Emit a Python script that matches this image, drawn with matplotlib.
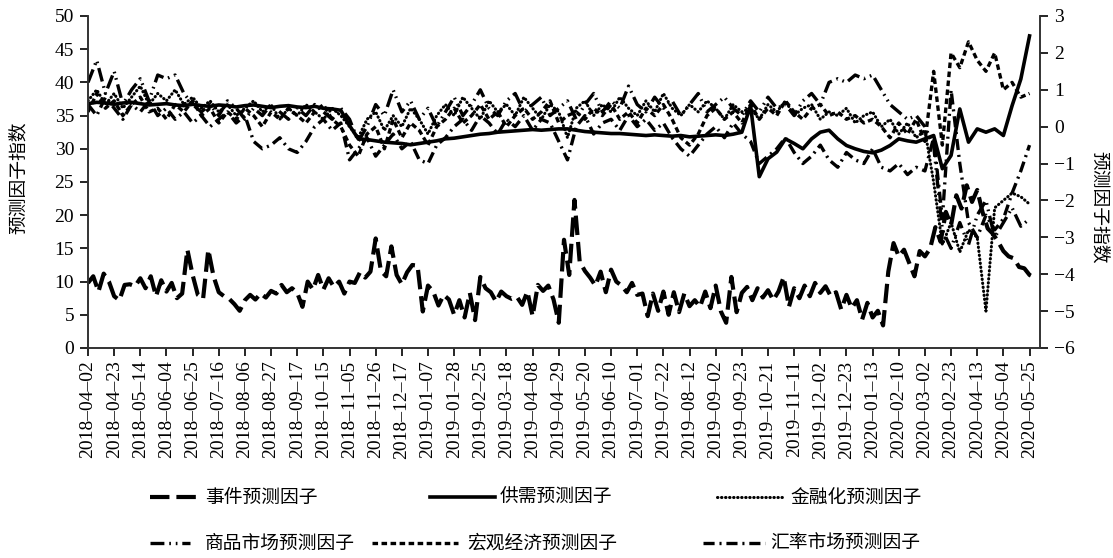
import numpy as np
import matplotlib
matplotlib.use("Agg")
import matplotlib.pyplot as plt
from matplotlib.lines import Line2D

plt.rcParams['font.family'] = ['Liberation Serif', 'Noto Sans CJK SC']
plt.rcParams['lines.scale_dashes'] = False
plt.rcParams['axes.unicode_minus'] = True

# ---------------- data ----------------
tick_labels = [
    "2018–04–02", "2018–04–23", "2018–05–14", "2018–06–04", "2018–06–25", "2018–07–16",
    "2018–08–06", "2018–08–27", "2018–09–17", "2018–10–15", "2018–11–05", "2018–11–26",
    "2018–12–17", "2019–01–07", "2019–01–28", "2019–02–25", "2019–03–18", "2019–04–08",
    "2019–04–29", "2019–05–20", "2019–06–10", "2019–07–01", "2019–07–22", "2019–08–12",
    "2019–09–02", "2019–09–23", "2019–10–21", "2019–11–11", "2019–12–02", "2019–12–23",
    "2020–01–13", "2020–02–10", "2020–03–02", "2020–02–23", "2020–04–13", "2020–05–04",
    "2020–05–25",
]
days_per_tick = 15        # trading days between tick labels
days_per_sample = 5       # trading days between read values (most series)
event_days_per_sample = 3 # event factor read more densely
last_day = 546

# left axis
event = [9.8, 10.8, 8.5, 11.2, 10.0, 7.8, 7.2, 9.5, 9.6, 9.3, 10.5, 9.0, 10.8, 7.8, 10.2,
         8.5, 9.8, 7.5, 8.2, 14.8, 11.0, 8.0, 7.4, 14.8, 10.8, 8.4, 7.8, 7.4, 6.6, 5.6,
         7.2, 8.0, 7.3, 8.2, 7.6, 8.6, 8.2, 9.5, 8.4, 9.0, 8.3, 6.2, 10.0, 8.8, 11.0,
         8.8, 10.5, 9.2, 10.0, 8.2, 10.0, 9.8, 11.4, 10.6, 11.5, 16.5, 11.6, 10.8, 15.3, 11.0,
         9.6, 11.4, 12.5, 12.4, 5.5, 9.4, 8.5, 6.4, 8.0, 7.3, 5.0, 7.2, 4.6, 8.3, 4.2,
         10.7, 9.0, 8.4, 7.0, 8.5, 7.8, 7.4, 7.7, 6.5, 8.5, 4.8, 9.5, 8.6, 9.4, 7.3,
         3.8, 16.3, 11.0, 22.3, 13.0, 11.6, 10.6, 9.4, 11.5, 8.4, 11.8, 10.0, 9.4, 8.4, 9.8,
         8.0, 8.2, 4.8, 8.2, 5.6, 8.5, 5.0, 8.4, 5.4, 8.2, 6.3, 7.2, 6.2, 8.5, 6.0,
         9.4, 5.5, 3.8, 10.7, 5.4, 8.3, 9.2, 7.2, 9.0, 7.6, 8.7, 7.2, 8.5, 10.7, 6.2,
         9.0, 7.5, 9.4, 7.8, 9.8, 8.3, 9.3, 7.8, 8.4, 5.8, 8.0, 6.0, 7.2, 4.3, 6.8,
         4.6, 5.6, 3.4, 11.5, 15.8, 13.8, 14.8, 12.8, 10.8, 14.6, 13.8, 15.0, 18.2, 16.0, 20.5,
         18.5, 23.0, 21.0, 24.5, 22.0, 23.8, 20.5, 18.0, 17.2, 16.0, 14.6, 13.8, 13.5, 12.2, 12.0,
         11.0, 10.6]
supply = [36.8, 37.0, 36.9, 36.7, 36.9, 37.0, 36.8, 36.6, 36.7, 36.8, 36.6, 36.5, 36.7,
          36.5, 36.4, 36.6, 36.5, 36.3, 36.5, 36.6, 36.4, 36.2, 36.4, 36.5, 36.3, 36.2, 36.4, 36.1,
          36.0, 35.8,
          33.5, 31.5, 31.4, 31.2, 31.0, 30.9, 30.8, 30.6, 30.8, 31.0, 31.2,
          31.5, 31.6, 31.8, 32.0, 32.2, 32.3, 32.5, 32.6, 32.7, 32.8, 32.9, 32.8, 32.9, 33.0, 33.0,
          32.8, 32.6, 32.5, 32.4, 32.3, 32.3, 32.2, 32.1, 32.0, 32.1, 32.0, 31.9, 32.0, 31.8, 31.9,
          32.0, 32.1, 32.0, 32.2, 32.5,
          36.5, 25.8, 28.5, 29.5, 31.5, 30.8, 30.0, 31.5, 32.5, 32.8, 31.5, 30.5, 30.0, 29.6, 29.4,
          29.8, 30.5, 31.5, 31.2, 31.0, 31.5,
          32.0, 27.0, 29.0, 36.0, 31.0, 33.0, 32.5, 33.0, 32.0, 36.5, 40.5, 47.0]

# right axis
financial = [0.7, 1.0, 0.6, 0.9, 0.5, 0.8, 1.1, 0.6, 0.9, 0.7, 1.0, 0.6, 0.8,
             0.5, 0.7, 0.4, 0.6, 0.3, 0.5, 0.7, 0.4, 0.6, 0.2, 0.5, 0.3, 0.6, 0.4, 0.2, 0.5, 0.3,
             0.0, -0.3, 0.2, 0.4, -0.1, 0.3, 0.0, 0.5, 0.2, -0.2, 0.3,
             0.6, 0.3, 0.8, 0.5, 0.2, 0.7, 0.4, 0.6, 0.3, 0.8, 0.5, 0.2, 0.6, 0.4, -0.3, 0.5, 0.7,
             0.3, 0.6, 0.4, 0.8, 0.5, 0.3, 0.7, 0.4, 0.9, 0.5, 0.3, 0.6, 0.4, 0.7, 0.5, 0.2, 0.6, 0.4,
             0.5, 0.2, 0.6, 0.4, 0.7, 0.3, 0.5, 0.6, 0.2, 0.4, 0.3, 0.5, 0.1, 0.3, 0.4, 0.0, 0.2,
             -0.2, 0.1, -0.3, -0.1,
             -1.5, -3.2, -2.6, -3.4, -2.8, -3.0, -5.0, -2.2, -2.0, -1.8, -1.9, -2.1]
commodity = [1.2, 1.8, 0.9, 1.5, 0.6, 1.0, 1.3, 0.7, 1.4, 1.3, 1.4, 0.9, 0.6,
             0.4, 0.6, 0.3, 0.7, 0.5, 0.2, 0.5, 0.3, 0.6, 0.4, 0.2, 0.5, 0.3, 0.6, 0.4, 0.2, 0.5,
             0.2, -0.4, 0.0, 0.6, 0.3, 1.0, 0.4, 0.7, 0.2, 0.5, 0.0,
             0.4, 0.8, 0.3, 0.6, 1.0, 0.5, 0.3, 0.7, 0.9, 0.4, 0.6, 0.8, 0.3, 0.5, 0.7, 0.2, 0.6,
             0.9, 0.4, 0.7, 0.5, 1.1, 0.6, 0.4, 0.8, 0.5, 0.7, 0.3, 0.6, 0.9, 0.4, 0.6, 0.8, 0.5, 0.3,
             0.7, 0.4, 0.8, 0.5, 0.6, 0.3, 0.7, 0.9, 0.6, 1.2, 1.3, 1.2, 1.4, 1.3, 1.4, 1.0, 0.6,
             0.4, 0.2, 0.3, 0.0,
             -0.5, -2.8, -3.3, -2.6, -3.2, -2.4, -2.0, -3.0, -2.6, -2.2, -2.7, -2.5]
macro = [0.4, 0.9, 0.5, 0.7, 0.3, 0.6, 0.8, 0.4, 0.5, 0.2, 0.6, 0.4, 0.7,
         0.3, 0.5, 0.1, 0.4, 0.2, 0.5, 0.3, 0.0, 0.4, 0.2, 0.5, 0.3, 0.1, 0.4, 0.6, 0.2, 0.0,
         -0.5, -0.8, -0.2, 0.0, -0.6, 0.2, -0.3, 0.1, -0.1, -0.5, 0.0,
         0.2, 0.5, 0.1, 0.3, 0.6, 0.2, 0.4, 0.0, 0.3, 0.5, 0.2, 0.4, 0.7, 0.1, 0.3, 0.4, 0.2,
         0.5, 0.3, 0.6, 0.2, 0.4, 0.1, 0.5, 0.3, 0.6, 0.2, -0.3, -0.5, -0.2, 0.3, 0.5, 0.2, 0.4, 0.1,
         0.6, 0.2, 0.5, 0.3, 0.7, 0.4, 0.2, 0.5, 0.6, 0.3, 0.4, 0.2, 0.3, 0.1, 0.2, 0.0, -0.3,
         0.1, -0.2, 0.2, -0.4,
         1.5, -0.5, 2.0, 1.6, 2.3, 1.8, 1.5, 2.0, 1.0, 1.2, 0.8, 0.9]
exchange = [0.6, 0.3, 0.8, 0.5, 0.2, 0.6, 0.4, 0.7, 0.3, 0.5, 0.2, 0.4, 0.1,
            0.3, 0.0, 0.2, 0.4, 0.1, 0.3, -0.4, -0.6, -0.5, -0.3, -0.6, -0.7, -0.4, 0.0, 0.2,
            -0.1, 0.1,
            -0.9, -0.6, -0.3, -0.8, -0.5, -0.2, -0.6, -0.4, -0.9, -1.0, -0.5,
            -0.3, 0.0, 0.2, -0.1, 0.3, 0.1, -0.2, 0.2, 0.0, 0.3, -0.1, 0.2, 0.1, -0.4, -0.9, 0.0,
            0.3, -0.2, 0.1, 0.2, -0.1, 0.3, 0.0, 0.2, -0.1, 0.1, -0.3, -0.6, -0.8, -0.5, -0.2, 0.0,
            -0.3, 0.1, -0.2,
            -0.4, -1.0, -0.8, -0.6, -0.3, -0.7, -1.0, -0.8, -0.5, -0.9, -1.1, -0.7, -0.9, -1.0,
            -0.6, -1.1, -1.2, -1.0, -1.3, -1.1, -1.2,
            -0.3, -2.5, 1.0, -1.0, -2.6, -3.0, -2.4, -2.8, -2.5, -1.8, -1.2, -0.5]

# ---------------- styles ----------------
styles = {
    "事件预测因子": dict(color="black", lw=3.0, linestyle=(0, (14, 5))),
    "供需预测因子": dict(color="black", lw=2.6, linestyle="-"),
    "金融化预测因子": dict(color="black", lw=2.2, linestyle=(0, (0.3, 2.6)), dash_capstyle="round"),
    "商品市场预测因子": dict(color="black", lw=2.4, linestyle=(0, (10, 3.5, 1.2, 3.5, 1.2, 3.5))),
    "宏观经济预测因子": dict(color="black", lw=2.4, linestyle=(0, (4, 2.5))),
    "汇率市场预测因子": dict(color="black", lw=2.4, linestyle=(0, (8, 3.5, 1.5, 3.5))),
}

W, H = 1113, 558
fig = plt.figure(figsize=(W / 100, H / 100), dpi=100)
ax = fig.add_axes([88 / W, 1 - 348 / H, (1040 - 88) / W, (348 - 16) / H])
ax2 = ax.twinx()

x = np.arange(len(supply)) * days_per_sample
x_event = np.arange(len(event)) * event_days_per_sample

ax.plot(x_event, event, **styles["事件预测因子"])
ax.plot(x, supply, **styles["供需预测因子"])
ax2.plot(x, financial, **styles["金融化预测因子"])
ax2.plot(x, commodity, **styles["商品市场预测因子"])
ax2.plot(x, macro, **styles["宏观经济预测因子"])
ax2.plot(x, exchange, **styles["汇率市场预测因子"])

ax.set_xlim(0, last_day)
ax.set_ylim(0, 50)
ax2.set_ylim(-6, 3)
ax.set_yticks(np.arange(0, 51, 5))
ax2.set_yticks(np.arange(-6, 4, 1))
ax.set_xticks(np.arange(len(tick_labels)) * days_per_tick)
ax.set_xticklabels(tick_labels, rotation=90, fontsize=14)
ax.tick_params(axis="y", labelsize=14, direction="out", length=6, width=1.2, pad=4)
ax.tick_params(axis="x", direction="out", length=6, width=1.2, pad=3)
ax2.tick_params(axis="y", labelsize=14, direction="out", length=6, width=1.2, pad=4)

for a in (ax, ax2):
    a.spines["top"].set_visible(False)
    for s in ("left", "right", "bottom"):
        a.spines[s].set_linewidth(1.2)
        a.spines[s].set_color("#333333")

cjk = ["Noto Sans CJK SC"]
fig.text(18 / W, 1 - 178 / H, "预测因子指数", rotation=90, ha="center", va="center",
         fontsize=13.5, family=cjk)
fig.text(1099 / W, 1 - 207 / H, "预测因子指数", rotation=270, ha="center", va="center",
         fontsize=13.5, family=cjk)

# ---------------- legend (two rows, hand placed) ----------------
entries = [
    ("事件预测因子", 150, 198, 205, 497),
    ("供需预测因子", 430, 495, 500, 497),
    ("金融化预测因子", 717, 785, 790, 497),
    ("商品市场预测因子", 150, 190, 205, 543),
    ("宏观经济预测因子", 372, 458, 467, 543),
    ("汇率市场预测因子", 703, 765, 770, 543),
]
for name, x0, x1, tx, ty in entries:
    fig.add_artist(Line2D([x0 / W, x1 / W], [1 - ty / H, 1 - ty / H],
                          transform=fig.transFigure, **styles[name]))
    fig.text(tx / W, 1 - ty / H, name, ha="left", va="center", fontsize=13.5, family=cjk)

fig.savefig("out.png", dpi=100)
